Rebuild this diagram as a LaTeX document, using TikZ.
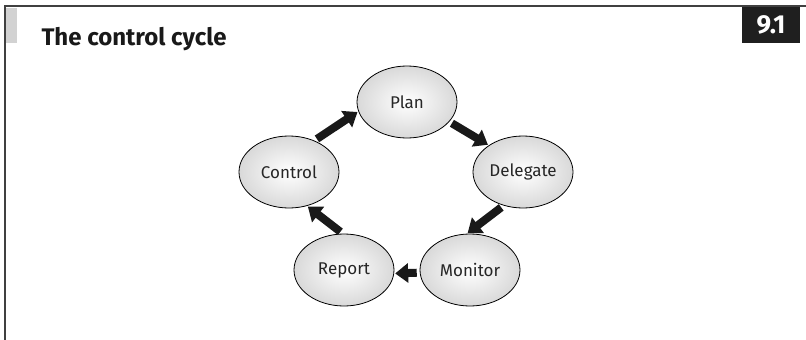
\documentclass[tikz,border=0pt]{standalone}
\usepackage{fontspec}
\setmainfont{Fira Sans}
\usetikzlibrary{arrows.meta, positioning, shapes.geometric}

\begin{document}
\begin{tikzpicture}[
    x=1pt, y=-1pt,
    stage/.style={ellipse, draw=black, line width=0.8pt, inner color=white, outer color=gray!30, minimum width=100pt, minimum height=72pt, inner sep=0, text=black!85, font=\fontsize{17}{20}\selectfont},
    flow/.style={line width=8pt, draw=black!90, -{Triangle[width=19pt, length=13pt]}, shorten <=3pt, shorten >=1pt},
    frame/.style={draw=black!75, line width=1.6pt},
    title text/.style={anchor=base west, text=black!90, font=\bfseries\fontsize{24}{28}\selectfont},
    badge/.style={fill=black!88, text=white, minimum width=58pt, minimum height=36pt, inner sep=0, font=\bfseries\fontsize{26}{30}\selectfont}
]
    \useasboundingbox (0,0) rectangle (806,340);

    % =========================================================
    % HEADER: FRAME, TITLE AND FIGURE NUMBER
    % =========================================================
    \fill[gray!35] (6,8) rectangle (17,43);
    \draw[frame] (5,340) -- (5,6) -- (806,6);
    \node[title text] (title) at (38,45) {The control cycle};
    \node[badge] (number) at (771,25) {9.1};

    % =========================================================
    % THE CYCLE
    % =========================================================
    \node[stage] (plan) at (407,102) {Plan};
    \node[stage] (delegate) at (523,172) {Delegate};
    \node[stage] (monitor) at (470,270) {Monitor};
    \node[stage] (report) at (344,270) {Report};
    \node[stage] (control) at (289,172) {Control};

    % Block arrows between the stages (anchors at border angles)
    \foreach \src/\sa/\dst/\da in {control/51/plan/191, plan/335/delegate/142, delegate/240/monitor/95, monitor/183/report/356, report/92/control/298} {
        \draw[flow] (\src.\sa) -- (\dst.\da);
    }

\end{tikzpicture}
\end{document}
